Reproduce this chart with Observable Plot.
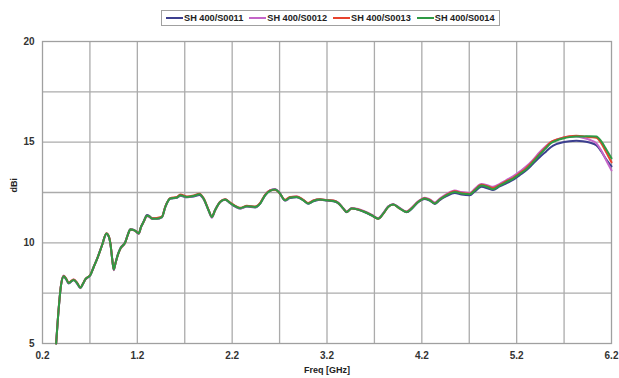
<!DOCTYPE html>
<html>
<head>
<meta charset="utf-8">
<script src="https://cdn.jsdelivr.net/npm/d3@7"></script>
<script src="https://cdn.jsdelivr.net/npm/@observablehq/plot@0.6"></script>
<style>
  body { margin: 0; background: #fff; }
  #wrap { position: relative; width: 619px; height: 378px; font-family: "Liberation Sans", Arial, sans-serif; }
  #legend { position: absolute; left: 161px; top: 10px; height: 14px; border: 1px solid #a0a0a0; display: flex; align-items: center; padding: 0 4px; gap: 6px; background: #fff; }
  .item { display: flex; align-items: center; font-weight: bold; font-size: 9.2px; color: #222; white-space: nowrap; }
  .sw { display: inline-block; width: 17px; height: 2px; margin-right: 1px; }
</style>
</head>
<body>
<div id="wrap"><div id="legend"></div></div>
<script>
const seriesNames = ["SH 400/S0011", "SH 400/S0012", "SH 400/S0013", "SH 400/S0014"];
const seriesColors = ["#3c3f8f", "#c465c8", "#e8432e", "#2e9a44"];

const freq = [0.344, 0.372, 0.397, 0.424, 0.45, 0.477, 0.505, 0.53, 0.565, 0.6, 0.625, 0.653, 0.705, 0.74, 0.776, 0.828, 0.874, 0.9, 0.916, 0.935, 0.951, 0.97, 0.993, 1.021, 1.074, 1.1, 1.126, 1.15, 1.179, 1.214, 1.24, 1.266, 1.302, 1.33, 1.355, 1.407, 1.46, 1.495, 1.547, 1.618, 1.653, 1.723, 1.793, 1.856, 1.898, 1.951, 1.986, 2.02, 2.074, 2.126, 2.179, 2.232, 2.284, 2.355, 2.442, 2.495, 2.547, 2.6, 2.653, 2.698, 2.758, 2.81, 2.88, 2.95, 3.003, 3.056, 3.126, 3.197, 3.266, 3.319, 3.372, 3.407, 3.46, 3.53, 3.6, 3.67, 3.74, 3.793, 3.845, 3.898, 3.968, 4.039, 4.092, 4.161, 4.232, 4.284, 4.337, 4.389, 4.46, 4.547, 4.618, 4.705, 4.758, 4.828, 4.898, 4.95, 5.021, 5.091, 5.161, 5.232, 5.302, 5.372, 5.442, 5.513, 5.56, 5.618, 5.688, 5.758, 5.828, 5.898, 5.968, 6.039, 6.091, 6.144, 6.2];

const s0011 = [5.0, 6.8, 7.95, 8.33, 8.18, 7.98, 8.08, 8.15, 7.98, 7.76, 7.94, 8.18, 8.4, 8.8, 9.2, 9.88, 10.44, 10.3, 9.96, 9.2, 8.68, 9.0, 9.4, 9.73, 10.06, 10.42, 10.68, 10.66, 10.6, 10.47, 10.82, 11.06, 11.38, 11.32, 11.22, 11.2, 11.3, 11.8, 12.2, 12.24, 12.34, 12.26, 12.3, 12.38, 12.18, 11.62, 11.3, 11.64, 12.04, 12.14, 11.97, 11.8, 11.7, 11.8, 11.76, 11.95, 12.36, 12.6, 12.66, 12.5, 12.1, 12.22, 12.26, 12.12, 11.94, 12.06, 12.14, 12.1, 12.06, 11.96, 11.7, 11.52, 11.72, 11.64, 11.52, 11.36, 11.2, 11.46, 11.8, 11.92, 11.72, 11.52, 11.68, 12.02, 12.18, 12.1, 11.93, 12.12, 12.32, 12.48, 12.4, 12.36, 12.55, 12.78, 12.7, 12.62, 12.8, 12.96, 13.12, 13.36, 13.6, 13.92, 14.25, 14.55, 14.75, 14.9, 15.0, 15.05, 15.07, 15.05, 14.98, 14.85, 14.55, 14.15, 13.8];

const s0012 = [5.0, 6.8, 7.97, 8.38, 8.2, 8.0, 8.1, 8.18, 8.0, 7.75, 7.95, 8.2, 8.4, 8.82, 9.22, 9.9, 10.46, 10.3, 9.94, 9.18, 8.64, 8.98, 9.38, 9.7, 10.02, 10.4, 10.64, 10.64, 10.58, 10.44, 10.78, 11.02, 11.32, 11.28, 11.18, 11.18, 11.26, 11.76, 12.2, 12.26, 12.36, 12.28, 12.33, 12.42, 12.2, 11.6, 11.24, 11.6, 12.02, 12.16, 11.98, 11.82, 11.7, 11.82, 11.78, 11.96, 12.38, 12.6, 12.66, 12.48, 12.1, 12.26, 12.3, 12.12, 11.96, 12.1, 12.16, 12.12, 12.1, 12.0, 11.72, 11.56, 11.72, 11.68, 11.56, 11.4, 11.22, 11.48, 11.8, 11.92, 11.72, 11.56, 11.74, 12.06, 12.24, 12.16, 12.0, 12.2, 12.42, 12.6, 12.52, 12.48, 12.68, 12.92, 12.85, 12.78, 12.93, 13.12, 13.3, 13.54, 13.8, 14.12, 14.5, 14.82, 15.0, 15.12, 15.22, 15.28, 15.28, 15.22, 15.12, 14.95, 14.6, 14.1, 13.6];

const s0013 = [5.0, 6.82, 7.96, 8.35, 8.22, 8.02, 8.12, 8.18, 8.02, 7.78, 7.96, 8.2, 8.42, 8.8, 9.2, 9.88, 10.47, 10.32, 9.98, 9.22, 8.68, 9.0, 9.38, 9.7, 10.04, 10.4, 10.66, 10.65, 10.59, 10.47, 10.8, 11.04, 11.34, 11.3, 11.22, 11.24, 11.3, 11.8, 12.22, 12.28, 12.4, 12.3, 12.35, 12.44, 12.22, 11.64, 11.3, 11.62, 12.04, 12.16, 12.0, 11.84, 11.74, 11.84, 11.8, 11.98, 12.38, 12.6, 12.64, 12.48, 12.14, 12.28, 12.3, 12.14, 11.98, 12.1, 12.16, 12.12, 12.1, 11.98, 11.7, 11.54, 11.7, 11.66, 11.54, 11.38, 11.2, 11.44, 11.78, 11.9, 11.7, 11.54, 11.72, 12.04, 12.22, 12.13, 11.97, 12.16, 12.38, 12.56, 12.48, 12.44, 12.63, 12.88, 12.8, 12.72, 12.88, 13.06, 13.22, 13.46, 13.72, 14.05, 14.42, 14.78, 15.0, 15.12, 15.22, 15.3, 15.32, 15.3, 15.25, 15.22, 14.95, 14.5, 14.0];

const s0014 = [5.0, 6.8, 7.95, 8.34, 8.2, 8.0, 8.1, 8.16, 8.0, 7.77, 7.95, 8.2, 8.4, 8.8, 9.2, 9.88, 10.46, 10.3, 9.96, 9.2, 8.67, 9.0, 9.38, 9.71, 10.04, 10.4, 10.66, 10.65, 10.59, 10.46, 10.8, 11.04, 11.35, 11.3, 11.2, 11.2, 11.28, 11.78, 12.2, 12.25, 12.36, 12.28, 12.33, 12.41, 12.2, 11.62, 11.28, 11.62, 12.03, 12.15, 11.98, 11.82, 11.72, 11.82, 11.78, 11.95, 12.36, 12.58, 12.65, 12.48, 12.11, 12.25, 12.28, 12.11, 11.95, 12.08, 12.15, 12.11, 12.08, 11.98, 11.7, 11.53, 11.7, 11.65, 11.53, 11.37, 11.2, 11.45, 11.78, 11.9, 11.7, 11.53, 11.7, 12.03, 12.2, 12.11, 11.95, 12.15, 12.36, 12.53, 12.45, 12.41, 12.6, 12.85, 12.76, 12.66, 12.84, 13.02, 13.18, 13.42, 13.66, 14.0, 14.38, 14.72, 14.95, 15.08, 15.18, 15.25, 15.28, 15.28, 15.3, 15.28, 15.05, 14.65, 14.2];

const xTicks = [0.2, 1.2, 2.2, 3.2, 4.2, 5.2, 6.2];
const xGrid = [0.7, 1.2, 1.7, 2.2, 2.7, 3.2, 3.7, 4.2, 4.7, 5.2, 5.7];
const yTicks = [5, 10, 15, 20];
const yGrid = [7.5, 10, 12.5, 15, 17.5];

const seriesValues = [s0011, s0012, s0013, s0014];
const rows = [];
seriesNames.forEach((name, i) => {
  freq.forEach((f, j) => rows.push({series: name, f, v: seriesValues[i][j]}));
});

const legend = document.getElementById("legend");
seriesNames.forEach((name, i) => {
  const it = document.createElement("div");
  it.className = "item";
  it.innerHTML = `<span class="sw" style="background:${seriesColors[i]}"></span>${name}`;
  legend.appendChild(it);
});

const chart = Plot.plot({
  width: 619,
  height: 378,
  marginLeft: 42,
  marginRight: 8,
  marginTop: 41,
  marginBottom: 35,
  style: {fontFamily: "'Liberation Sans', Arial, sans-serif", fontSize: "10px", fontWeight: "bold", color: "#333", background: "#fff"},
  x: {domain: [0.2, 6.2]},
  y: {domain: [5, 20]},
  color: {domain: seriesNames, range: seriesColors},
  marks: [
    Plot.gridX(xGrid, {stroke: "#ababab", strokeOpacity: 1, strokeWidth: 1.3}),
    Plot.gridY(yGrid, {stroke: "#ababab", strokeOpacity: 1, strokeWidth: 1.3}),
    Plot.frame({stroke: "#a0a0a0", strokeWidth: 1.3}),
    Plot.axisX(xTicks, {tickSize: 0, tickPadding: 8, tickFormat: d3.format(".1f"), label: null}),
    Plot.axisY(yTicks, {tickSize: 0, tickPadding: 8, label: null}),
    Plot.line(rows, {x: "f", y: "v", z: "series", stroke: "series", strokeWidth: 2, curve: "monotone-x"}),
    Plot.text(["Freq [GHz]"], {frameAnchor: "bottom", dy: 29, text: d => d, fontSize: 9, fontWeight: "bold", fill: "#222"}),
    Plot.text(["dBi"], {frameAnchor: "left", dx: -28, rotate: -90, text: d => d, fontSize: 9, fontWeight: "bold", fill: "#222"})
  ]
});
document.getElementById("wrap").insertBefore(chart, legend);
</script>
</body>
</html>
